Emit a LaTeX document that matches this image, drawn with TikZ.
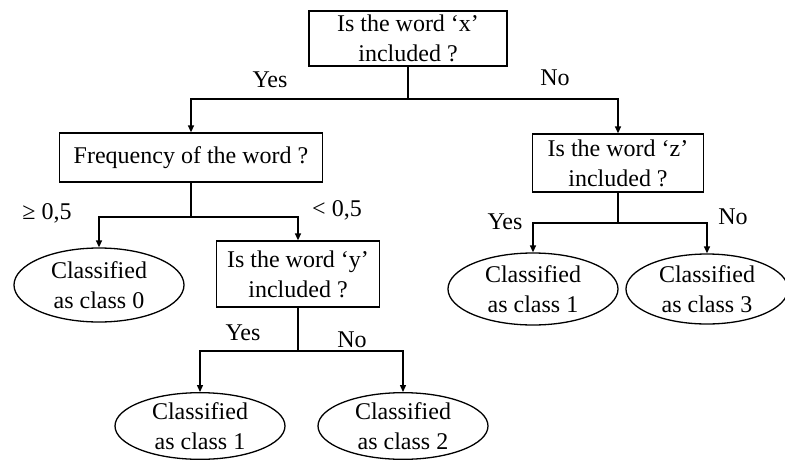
\documentclass[tikz,border=0pt]{standalone}
\usepackage{fontspec}
\setmainfont{Liberation Serif}
\usetikzlibrary{shapes.geometric,arrows.meta}
\begin{document}
\begin{tikzpicture}[x=1pt,y=-1pt,
  every node/.style={font=\fontsize{24}{30}\selectfont},
  qbox/.style={draw,line width=1.3pt,rectangle,align=center,inner sep=0pt},
  leaf/.style={draw,line width=1.3pt,ellipse,align=center,inner sep=0pt},
  link/.style={line width=1.3pt},
  arr/.style={line width=1.3pt,-{Triangle[length=7pt,width=6pt]}},
  lbl/.style={inner sep=0pt}]
\useasboundingbox (0,0) rectangle (785,461);

% question boxes
\node[qbox,minimum width=198pt,minimum height=55pt] (root) at (408,38.5) {Is the word ‘x’\\included ?};
\node[qbox,minimum width=263pt,minimum height=49pt] (freq) at (191,157.5) {Frequency of the word ?};
\node[qbox,minimum width=163pt,minimum height=66pt] (qy) at (298,274) {Is the word ‘y’\\included ?};
\node[qbox,minimum width=171pt,minimum height=58pt] (qz) at (618,163) {Is the word ‘z’\\included ?};

% leaves
\node[leaf,minimum width=170pt,minimum height=74pt] (c0) at (99,285) {Classified\\as class 0};
\node[leaf,minimum width=170pt,minimum height=66pt] (c1a) at (200,426) {Classified\\as class 1};
\node[leaf,minimum width=170pt,minimum height=66pt] (c2) at (403,426) {Classified\\as class 2};
\node[leaf,minimum width=170pt,minimum height=72pt] (c1b) at (533,289) {Classified\\as class 1};
\node[leaf,minimum width=162pt,minimum height=70pt] (c3) at (707,289) {Classified\\as class 3};

% branching points
\coordinate (jroot) at (408,99);
\coordinate (jfreq) at (191,217);
\coordinate (jy) at (298,351);
\coordinate (jz) at (618,223);

% connectors
\draw[link] (root.south) -- (jroot);
\draw[arr] (jroot) -| (freq.north);
\draw[arr] (jroot) -| (qz.north);

\draw[link] (freq.south) -- (jfreq);
\draw[arr] (jfreq) -| (c0.north);
\draw[arr] (jfreq) -| (qy.north);

\draw[link] (qy.south) -- (jy);
\draw[arr] (jy) -| (c1a.north);
\draw[arr] (jy) -| (c2.north);

\draw[link] (qz.south) -- (jz);
\draw[arr] (jz) -| (c1b.north);
\draw[arr] (jz) -| (c3.north);

% branch labels
\node[lbl] (l1) at (270,80) {Yes};
\node[lbl] (l2) at (555,78) {No};
\node[lbl] (l3) at (47,213) {≥ 0,5};
\node[lbl] (l4) at (337,210) {< 0,5};
\node[lbl] (l5) at (243,333) {Yes};
\node[lbl] (l6) at (352,340) {No};
\node[lbl] (l7) at (505,222) {Yes};
\node[lbl] (l8) at (733,217) {No};
\end{tikzpicture}
\end{document}
